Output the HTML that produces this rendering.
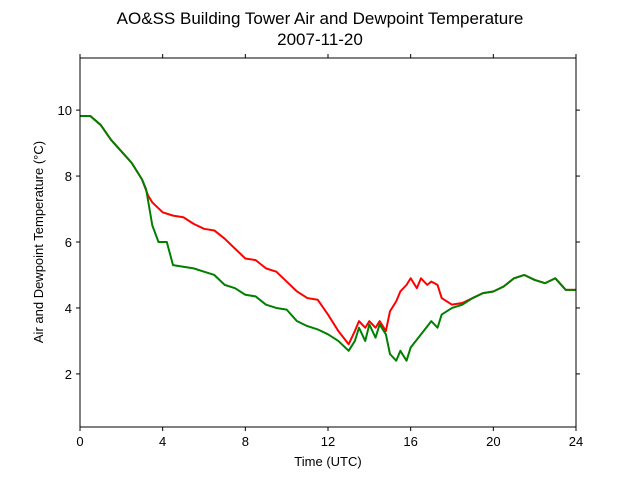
<!DOCTYPE html>
<html><head><meta charset="utf-8"><style>
body{margin:0;background:#fff}
svg{display:block;font-family:"Liberation Sans","DejaVu Sans",sans-serif}
</style></head><body>
<svg id="chart" width="640" height="480">
<text x="320" y="24" text-anchor="middle" font-size="17">AO&amp;SS Building Tower Air and Dewpoint Temperature</text>
<text x="320" y="45" text-anchor="middle" font-size="17">2007-11-20</text>
<g id="plot"></g>
<rect x="80" y="58" width="496" height="369" fill="none" stroke="#000" stroke-width="1"/>
<text x="328" y="466" text-anchor="middle" font-size="13">Time (UTC)</text>
<text transform="translate(43,242) rotate(-90)" text-anchor="middle" font-size="13">Air and Dewpoint Temperature (°C)</text>
</svg>
<script>
const airTimes=[0,0.5,1,1.5,2,2.5,3,3.3,3.5,4,4.5,5,5.5,6,6.5,7,7.5,8,8.5,9,9.5,10,10.5,11,11.5,12,12.5,13,13.3,13.5,13.8,14,14.3,14.5,14.8,15,15.3,15.5,15.8,16,16.3,16.5,16.8,17,17.3,17.5,18,18.5,19,19.5,20,20.5,21,21.5,22,22.5,23,23.5,24];
const airTemps=[9.82,9.82,9.55,9.1,8.75,8.4,7.9,7.4,7.2,6.9,6.8,6.75,6.55,6.4,6.35,6.1,5.8,5.5,5.45,5.2,5.1,4.8,4.5,4.3,4.25,3.8,3.3,2.9,3.3,3.6,3.4,3.6,3.4,3.6,3.3,3.9,4.2,4.5,4.7,4.9,4.6,4.9,4.7,4.8,4.7,4.3,4.1,4.15,4.3,4.45,4.5,4.65,4.9,5.0,4.85,4.75,4.9,4.55,4.55];
const dewTimes=[0,0.5,1,1.5,2,2.5,3,3.2,3.5,3.8,4.2,4.5,5,5.5,6,6.5,7,7.5,8,8.5,9,9.5,10,10.5,11,11.5,12,12.5,13,13.3,13.5,13.8,14,14.3,14.5,14.8,15,15.3,15.5,15.8,16,16.5,17,17.3,17.5,18,18.5,19,19.5,20,20.5,21,21.5,22,22.5,23,23.5,24];
const dewTemps=[9.82,9.82,9.55,9.1,8.75,8.4,7.9,7.6,6.5,6.0,6.0,5.3,5.25,5.2,5.1,5.0,4.7,4.6,4.4,4.35,4.1,4.0,3.95,3.6,3.45,3.35,3.2,3.0,2.7,3.0,3.4,3.0,3.5,3.1,3.5,3.2,2.6,2.4,2.7,2.4,2.8,3.2,3.6,3.4,3.8,4.0,4.1,4.3,4.45,4.5,4.65,4.9,5.0,4.85,4.75,4.9,4.55,4.55];
const xTicks=[0,4,8,12,16,20,24];
const yTicks=[2,4,6,8,10];
const X0=80,X1=576,Y0=427,Y1=58,xMin=0,xMax=24,yMin=0.39,yMax=11.58;
const sx=v=>X0+(v-xMin)/(xMax-xMin)*(X1-X0);
const sy=v=>Y0-(v-yMin)/(yMax-yMin)*(Y0-Y1);
const NS="http://www.w3.org/2000/svg";
const g=document.getElementById('plot');
function line(ts,vs,color,name){
  const p=document.createElementNS(NS,'polyline');
  p.setAttribute('points',ts.map((t,i)=>sx(t)+','+sy(vs[i])).join(' '));
  p.setAttribute('fill','none');p.setAttribute('stroke',color);p.setAttribute('stroke-width','2');
  p.setAttribute('stroke-linejoin','round');
  
  
  g.appendChild(p);
}
line(airTimes,airTemps,'#ff0000','air-temperature-line');
line(dewTimes,dewTemps,'#008000','dewpoint-line');
xTicks.forEach(t=>{
  [[Y0,Y0+4],[Y1,Y1-4]].forEach(([a,b])=>{
    const l=document.createElementNS(NS,'line');
    l.setAttribute('x1',sx(t));l.setAttribute('x2',sx(t));l.setAttribute('y1',a);l.setAttribute('y2',b);l.setAttribute('stroke','#000');
    
    
    g.appendChild(l);
  });
  const tx=document.createElementNS(NS,'text');
  tx.setAttribute('x',sx(t));tx.setAttribute('y',446);tx.setAttribute('text-anchor','middle');tx.setAttribute('font-size','13');
  tx.textContent=t;
  
  
  g.appendChild(tx);
});
yTicks.forEach(v=>{
  [[X0,X0-4],[X1,X1+4]].forEach(([a,b])=>{
    const l=document.createElementNS(NS,'line');
    l.setAttribute('x1',a);l.setAttribute('x2',b);l.setAttribute('y1',sy(v));l.setAttribute('y2',sy(v));l.setAttribute('stroke','#000');
    
    
    g.appendChild(l);
  });
  const tx=document.createElementNS(NS,'text');
  tx.setAttribute('x',X0-8);tx.setAttribute('y',sy(v)+5);tx.setAttribute('text-anchor','end');tx.setAttribute('font-size','13');
  tx.textContent=v;
  
  
  g.appendChild(tx);
});
</script>
</body></html>
